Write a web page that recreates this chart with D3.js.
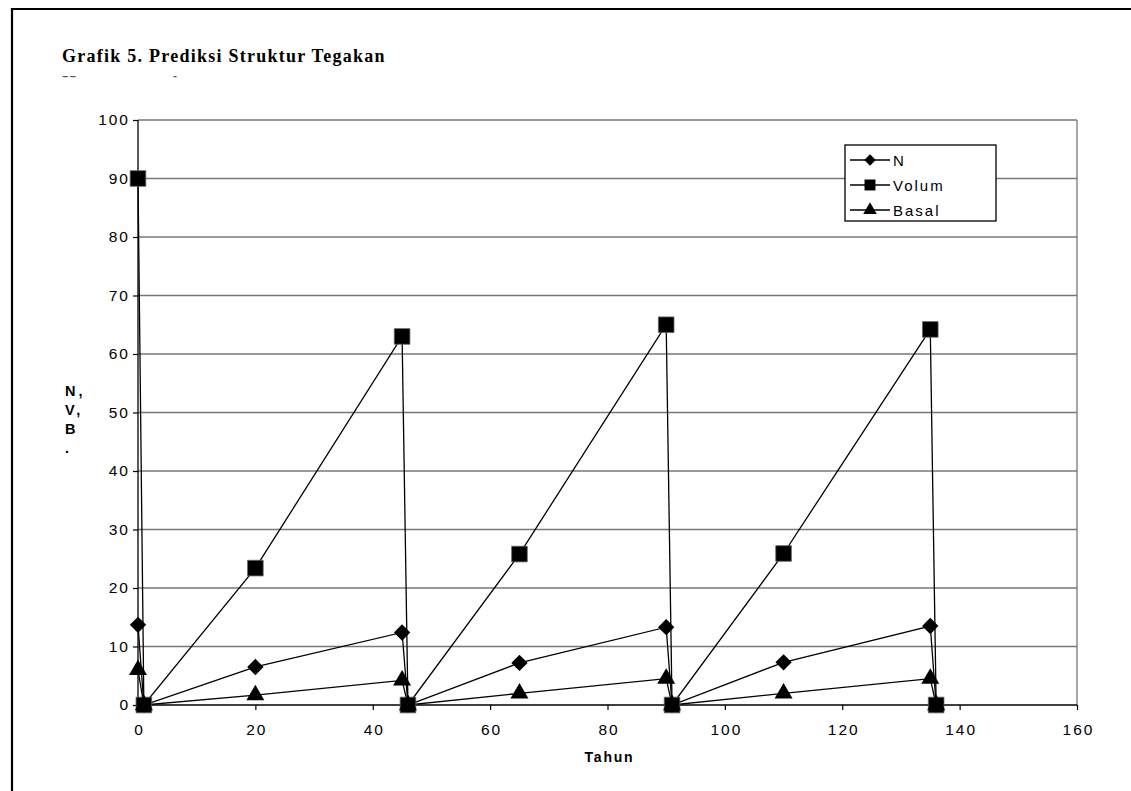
<!DOCTYPE html>
<html>
<head>
<meta charset="utf-8">
<script src="https://cdn.jsdelivr.net/npm/d3@7"></script>
<style>
  html, body { margin: 0; padding: 0; background: #fff; }
  svg { display: block; }
</style>
</head>
<body>
<svg id="chart" width="1131" height="791"></svg>
<script>
// Years of the simulated cutting cycles
const tahun = [0, 1, 20, 45, 46, 65, 90, 91, 110, 135, 136];
// Stand parameters per year
const nValues      = [13.7, 0, 6.5, 12.4, 0, 7.2, 13.3, 0, 7.3, 13.5, 0];
const volumValues  = [90, 0, 23.4, 63.0, 0, 25.8, 65.0, 0, 25.9, 64.2, 0];
const basalValues  = [6.0, 0, 1.7, 4.2, 0, 2.0, 4.5, 0, 2.0, 4.5, 0];
const seriesNames  = ["N", "Volum", "Basal"];
const xTicks = [0, 20, 40, 60, 80, 100, 120, 140, 160];
const yTicks = [0, 10, 20, 30, 40, 50, 60, 70, 80, 90, 100];

const svg = d3.select("#chart");
const m = { left: 138, right: 1077, top: 120, bottom: 705 };

const x = d3.scaleLinear().domain([0, 160]).range([m.left, m.right]);
const y = d3.scaleLinear().domain([0, 100]).range([m.bottom, m.top]);

// outer frame (only left and top edges fall inside the page)
svg.append("path")
  .attr("d", "M12,800 L12,9 L1140,9")
  .attr("fill", "none").attr("stroke", "#000").attr("stroke-width", 2.2);

// title
svg.append("text")
  .attr("x", 62).attr("y", 62)
  .attr("font-family", "'Liberation Serif', 'Times New Roman', serif")
  .attr("font-weight", "bold").attr("font-size", 18)
  .attr("letter-spacing", 1.25)
  .text("Grafik 5. Prediksi Struktur Tegakan");

// second title line, mostly hidden behind the plot area
svg.append("clipPath").attr("id", "subclip")
  .append("rect").attr("x", 0).attr("y", 75).attr("width", 600).attr("height", 2.2);
svg.append("text")
  .attr("clip-path", "url(#subclip)")
  .attr("x", 62).attr("y", 89)
  .attr("fill", "#555")
  .attr("font-family", "'Liberation Serif', 'Times New Roman', serif")
  .attr("font-weight", "bold").attr("font-size", 18)
  .attr("letter-spacing", 1.25)
  .text("Hutan rawa lama");

// horizontal gridlines
svg.append("g").selectAll("line")
  .data(yTicks.filter(d => d > 0))
  .join("line")
  .attr("x1", m.left).attr("x2", m.right)
  .attr("y1", d => y(d)).attr("y2", d => y(d))
  .attr("stroke", "#777").attr("stroke-width", 1.3);

// right edge of plot area
svg.append("line")
  .attr("x1", m.right).attr("x2", m.right)
  .attr("y1", m.top).attr("y2", m.bottom)
  .attr("stroke", "#777").attr("stroke-width", 1.3);

// axes
const yAxis = d3.axisLeft(y).tickValues(yTicks).tickSize(5).tickPadding(3).tickFormat(d3.format("d"));
const gy = svg.append("g").attr("transform", `translate(${m.left},0)`).call(yAxis);
const xAxis = d3.axisBottom(x).tickValues(xTicks).tickSize(5).tickPadding(14).tickFormat(d3.format("d"));
const gx = svg.append("g").attr("transform", `translate(0,${m.bottom})`).call(xAxis);

[gx, gy].forEach(g => {
  g.select(".domain").attr("stroke", "#000").attr("stroke-width", 1.3);
  g.selectAll(".tick line").attr("stroke", "#000").attr("stroke-width", 1.2);
  g.selectAll(".tick text")
    .attr("font-family", "'Liberation Sans', Arial, sans-serif")
    .attr("font-size", 15.5).attr("fill", "#000")
    .attr("letter-spacing", 2);
});
gy.select(".domain").attr("d", `M0,${m.bottom}V${m.top}`);
gx.select(".domain").attr("d", `M${m.left},0H${m.right}`);
gx.selectAll(".tick text").attr("dx", 1);

// axis titles
svg.append("text")
  .attr("x", (m.left + m.right) / 2 + 2).attr("y", 762)
  .attr("text-anchor", "middle")
  .attr("font-family", "'Liberation Sans', Arial, sans-serif")
  .attr("font-weight", "bold").attr("font-size", 14)
  .attr("letter-spacing", 1.8)
  .text("Tahun");

const yLab = ["N,", "V,", "B", "."];
svg.append("g").selectAll("text")
  .data(yLab).join("text")
  .attr("x", 65).attr("y", (d, i) => 396 + i * 19)
  .attr("font-family", "'Liberation Sans', Arial, sans-serif")
  .attr("font-weight", "bold").attr("font-size", 14.5)
  .attr("letter-spacing", 3)
  .text(d => d);

// series
const series = [
  { name: seriesNames[0], values: nValues, symbol: d3.symbolDiamond2, size: 170 },
  { name: seriesNames[1], values: volumValues, symbol: d3.symbolSquare, size: 245 },
  { name: seriesNames[2], values: basalValues, symbol: d3.symbolTriangle, size: 140 }
];

const line = d3.line().x(d => x(d[0])).y(d => y(d[1]));
const plot = svg.append("g");

series.forEach(s => {
  const pts = tahun.map((t, i) => [t, s.values[i]]);
  plot.append("path")
    .attr("d", line(pts))
    .attr("fill", "none").attr("stroke", "#000").attr("stroke-width", 1.3);
});

series.forEach(s => {
  const pts = tahun.map((t, i) => [t, s.values[i]]);
  const sym = d3.symbol().type(s.symbol).size(s.size);
  plot.append("g").selectAll("path")
    .data(pts).join("path")
    .attr("transform", d => `translate(${x(d[0])},${y(d[1])})`)
    .attr("d", sym())
    .attr("fill", "#000").attr("stroke", s.symbol === d3.symbolSquare ? "#666" : "none").attr("stroke-width", 0.8);
});

// legend
const lg = svg.append("g").attr("transform", "translate(845,145)");
lg.append("rect").attr("width", 151).attr("height", 76)
  .attr("fill", "#fff").attr("stroke", "#000").attr("stroke-width", 1.3);
series.forEach((s, i) => {
  const cy = 15 + i * 25;
  lg.append("line").attr("x1", 5).attr("x2", 45).attr("y1", cy).attr("y2", cy)
    .attr("stroke", "#000").attr("stroke-width", 1.3);
  const sz = s.symbol === d3.symbolSquare ? 120 : (s.symbol === d3.symbolDiamond2 ? 85 : 80);
  lg.append("path").attr("transform", `translate(25,${cy})`)
    .attr("d", d3.symbol().type(s.symbol).size(sz)())
    .attr("fill", "#000");
  lg.append("text").attr("x", 48).attr("y", cy + 5.5)
    .attr("font-family", "'Liberation Sans', Arial, sans-serif")
    .attr("font-size", 15).attr("letter-spacing", 2)
    .text(s.name);
});
</script>
</body>
</html>
